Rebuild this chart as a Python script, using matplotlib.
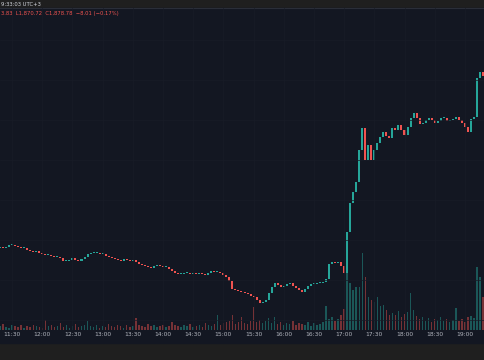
import numpy as np
import matplotlib
matplotlib.use("Agg")
import matplotlib.pyplot as plt
from matplotlib.patches import Rectangle

# 3-minute candles starting 11:18 (minutes since midnight)
start_min = 678
step = 3

closes = [
    1953, 1952, 1953, 1955, 1955, 1954, 1953, 1952, 1952, 1950,
    1949, 1948, 1949, 1947, 1946, 1945, 1945, 1944, 1943, 1943,
    1942, 1939, 1939, 1940, 1942, 1940, 1939, 1941, 1943, 1946,
    1947, 1947, 1947, 1946, 1946, 1944, 1943, 1942, 1941, 1940,
    1939, 1941, 1940, 1939, 1940, 1938, 1936, 1935, 1934, 1933,
    1932, 1934, 1935, 1934, 1933, 1933, 1931, 1929, 1927, 1926,
    1926, 1927, 1927, 1926, 1927, 1926, 1927, 1926, 1925, 1927,
    1929, 1928, 1928, 1927, 1925, 1923, 1919, 1911, 1910, 1909,
    1908, 1907, 1906, 1904, 1903, 1900, 1897, 1898, 1900, 1907,
    1913, 1917, 1915, 1913, 1914, 1916, 1917, 1914, 1912, 1910,
    1908, 1911, 1914, 1916, 1916, 1917, 1917, 1918, 1921, 1936,
    1938, 1937, 1938, 1934, 1927, 1968, 1997, 2008, 2018, 2050,
    2072, 2040, 2055, 2040, 2050, 2057, 2063, 2068, 2064, 2062,
    2072, 2070, 2075, 2070, 2065, 2073, 2082, 2087, 2082, 2076,
    2077, 2080, 2082, 2080, 2077, 2079, 2082, 2082, 2079, 2080,
    2081, 2083, 2080, 2077, 2073, 2068, 2081, 2083, 2122, 2128,
    2124, 2127,
]
first_open = 1952

volumes = [
    40, 60, 30, 20, 50, 40, 30, 50, 20, 40,
    30, 50, 40, 30, 20, 100, 40, 50, 30, 40,
    70, 30, 50, 20, 40, 60, 30, 40, 50, 90,
    40, 30, 50, 20, 40, 30, 60, 40, 30, 50,
    40, 20, 50, 30, 40, 120, 50, 40, 30, 60,
    40, 50, 30, 40, 50, 30, 40, 80, 50, 40,
    30, 50, 40, 60, 30, 40, 50, 30, 70, 50,
    40, 60, 150, 50, 70, 80, 90, 150, 60, 80,
    130, 70, 60, 90, 230, 80, 100, 70, 90, 120,
    70, 130, 60, 80, 50, 70, 60, 90, 50, 70,
    60, 50, 80, 40, 70, 50, 60, 80, 240, 110,
    130, 90, 110, 150, 210, 570, 470, 400, 430, 430,
    770, 530, 330, 300, 280, 330, 240, 250, 200, 150,
    170, 150, 190, 130, 160, 180, 370, 200, 140, 110,
    130, 90, 120, 80, 110, 100, 130, 90, 110, 80,
    100, 220, 90, 110, 80, 130, 140, 120, 630, 530,
    330, 200,
]

tick_times = ["11:30", "12:00", "12:30", "13:00", "13:30", "14:00", "14:30", "15:00",
              "15:30", "16:00", "16:30", "17:00", "17:30", "18:00", "18:30", "19:00"]

header = "9:33:03 UTC+3"
legend_text = "3.83  L1,870.72  C1,878.78  \u22128.01 (\u22120.17%)"

up_col = "#26a69a"
down_col = "#ef5350"
bg = "#131722"

closes = np.array(closes, dtype=float)
opens = np.concatenate([[first_open], closes[:-1]])
times = start_min + step * np.arange(len(closes))
up = closes >= opens
colors = np.where(up, up_col, down_col)

fig = plt.figure(figsize=(4.85, 3.6), dpi=100, facecolor="#1f1f1f")
fig.patches.append(Rectangle((0, 17 / 360), 1, 335 / 360, transform=fig.transFigure,
                             color=bg, zorder=-5))
fig.lines.append(plt.Line2D([0, 1], [352 / 360, 352 / 360], transform=fig.transFigure,
                            color="#2a2e39", lw=0.8, zorder=-4))

ax = fig.add_axes([0, 30 / 360, 1, 322 / 360])
axv = ax.twinx()
ax.set_zorder(2)
ax.patch.set_visible(False)
axv.patch.set_visible(False)

# volume
axv.bar(times, volumes, width=1.4, color=colors, alpha=0.45, linewidth=0)
axv.set_ylim(0, 3220)
axv.axis("off")

# candles
bottoms = np.minimum(opens, closes)
heights = np.maximum(np.abs(closes - opens), 0.9)
ax.bar(times, heights, bottom=bottoms, width=2.0, color=colors, linewidth=0)

ax.set_xlim(678, 1160)
ax.set_ylim(1870, 2192)

ticks = 690 + 30 * np.arange(len(tick_times))
ax.set_xticks(ticks, tick_times)
ax.set_yticks(np.arange(1880, 2192, 40))
ax.grid(True, color="#181c27", lw=0.5)
ax.tick_params(axis="x", length=0, pad=1.5, labelsize=4.3, colors="#b2b5be")
ax.tick_params(axis="y", left=False, labelleft=False)
for s in ax.spines.values():
    s.set_visible(False)

fig.text(0.002, 356 / 360, header, fontsize=3.8, color="#d1d4dc", va="center", ha="left")
fig.text(0.002, 347 / 360, legend_text, fontsize=3.8, color=down_col, va="center", ha="left")

fig.savefig("out.png", dpi=100, facecolor=fig.get_facecolor())
